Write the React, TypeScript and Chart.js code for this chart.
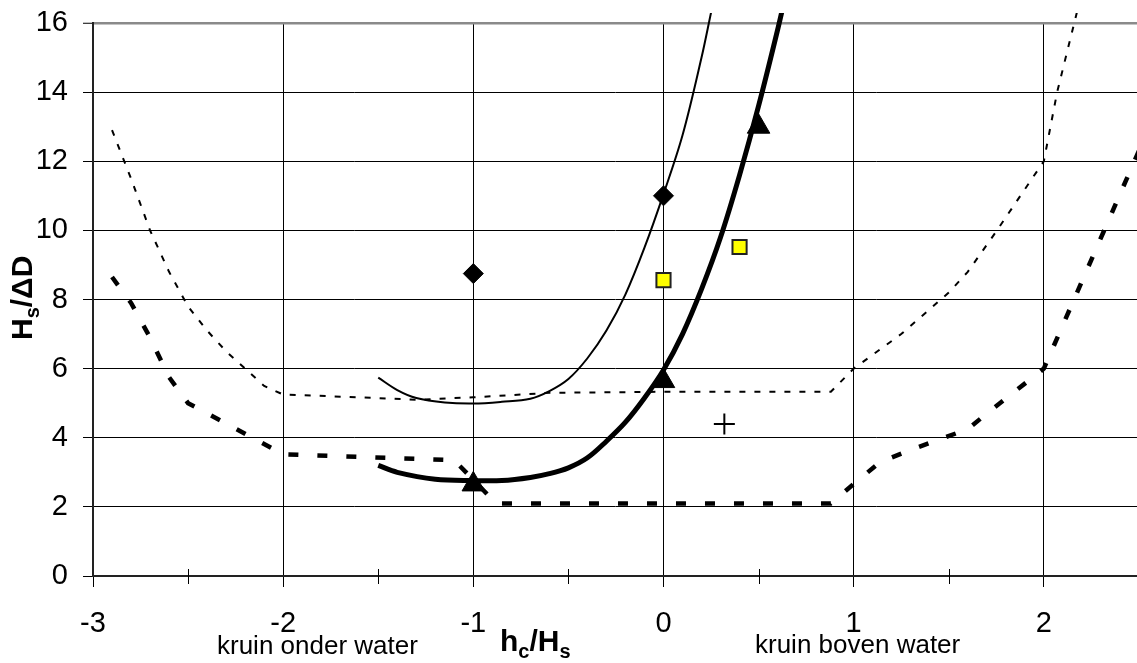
import React, { useEffect, useRef } from 'react';
import { Chart, registerables } from 'chart.js';

Chart.register(...registerables);

const FONT = "'Liberation Sans', Arial, Helvetica, sans-serif";

// Axis ticks
const xTickValues = [-3, -2.5, -2, -1.5, -1, -0.5, 0, 0.5, 1, 1.5, 2];
const xMinorTicks = [-2.5, -1.5, -0.5, 0.5, 1.5];
const yTickValues = [0, 2, 4, 6, 8, 10, 12, 14, 16];

// Thin solid curve
const thinCurveX = [-1.5, -1.4, -1.3, -1.15, -1.0, -0.85, -0.7, -0.6, -0.5, -0.4, -0.3, -0.2, -0.1, 0, 0.1, 0.2, 0.25];
const thinCurveY = [5.74, 5.38, 5.15, 5.02, 4.99, 5.04, 5.13, 5.35, 5.7, 6.3, 7.1, 8.15, 9.5, 11.05, 12.75, 15.0, 16.3];

// Thick solid curve
const thickCurveX = [-1.5, -1.4, -1.2, -1.0, -0.85, -0.7, -0.6, -0.5, -0.4, -0.3, -0.2, -0.1, 0, 0.1, 0.2, 0.3, 0.4, 0.5, 0.6, 0.65];
const thickCurveY = [3.2, 3.0, 2.8, 2.76, 2.76, 2.85, 2.96, 3.13, 3.42, 3.9, 4.45, 5.15, 5.96, 7.0, 8.3, 9.8, 11.6, 13.6, 15.8, 17.0];

// Thin dotted (upper) boundary
const upperDotX = [-2.9, -2.8, -2.7, -2.6, -2.5, -2.4, -2.3, -2.2, -2.1, -2.0, -1.6, -1.3, -1.0, -0.6, 0, 0.88, 1.0, 1.25, 1.5, 1.6, 1.75, 2.0, 2.07, 2.16, 2.25];
const upperDotY = [12.9, 11.5, 10.0, 8.8, 7.8, 7.1, 6.5, 6.0, 5.5, 5.25, 5.17, 5.1, 5.17, 5.3, 5.33, 5.33, 6.0, 7.0, 8.2, 8.8, 9.97, 12.0, 14.0, 16.0, 18.0];

// Thick dashed (lower) boundary
const lowerDashX = [-2.9, -2.8, -2.7, -2.6, -2.5, -2.0, -1.1, -0.88, 0.88, 1.03, 1.14, 1.3, 1.6, 1.7, 2.0, 2.5];
const lowerDashY = [8.65, 7.9, 6.9, 5.75, 5.0, 3.52, 3.35, 2.1, 2.1, 2.8, 3.3, 3.65, 4.25, 4.7, 6.0, 12.3];

// Measured points
const diamondX = [-1, 0];
const diamondY = [8.75, 11.0];
const squareX = [0, 0.4];
const squareY = [8.56, 9.52];
const triangleX = [-1, 0, 0.5];
const triangleY = [2.65, 5.64, 13.0];
const plusX = [0.32];
const plusY = [4.4];

const pts = (xs: number[], ys: number[]) => xs.map((x, i) => ({ x, y: ys[i] }));

const lineClip = { left: 0, top: 10, right: 0, bottom: 0 };

function drawParts(ctx: CanvasRenderingContext2D, parts: { t: string; sub?: boolean }[], x: number, y: number, size: number, subSize: number, subOff: number) {
  let cx = x;
  for (const p of parts) {
    ctx.font = `bold ${p.sub ? subSize : size}px ${FONT}`;
    ctx.fillText(p.t, cx, p.sub ? y + subOff : y);
    cx += ctx.measureText(p.t).width;
  }
}

const decorPlugin = {
  id: 'decor',
  afterDraw(chart: any) {
    const ctx: CanvasRenderingContext2D = chart.ctx;
    const xs = chart.scales.x;
    const ys = chart.scales.y;
    const y0 = ys.getPixelForValue(0);
    ctx.save();
    // minor ticks crossing the x axis
    ctx.strokeStyle = '#000';
    ctx.lineWidth = 1;
    for (const v of xMinorTicks) {
      const px = Math.round(xs.getPixelForValue(v)) + 0.5;
      ctx.beginPath();
      ctx.moveTo(px, y0 - 7);
      ctx.lineTo(px, y0 + 8);
      ctx.stroke();
    }
    ctx.fillStyle = '#000';
    ctx.textAlign = 'left';
    ctx.textBaseline = 'alphabetic';
    // x title
    drawParts(ctx, [{ t: 'h' }, { t: 'c', sub: true }, { t: '/H' }, { t: 's', sub: true }], 500, 651, 30, 20, 7);
    // y title (rotated)
    ctx.save();
    ctx.translate(32, 340);
    ctx.rotate(-Math.PI / 2);
    drawParts(ctx, [{ t: 'H' }, { t: 's', sub: true }, { t: '/ΔD' }], 0, 0, 30, 20, 7);
    ctx.restore();
    // side notes
    ctx.font = `26px ${FONT}`;
    ctx.fillText('kruin onder water', 217, 654);
    ctx.fillText('kruin boven water', 755, 653);
    ctx.restore();
  },
};

export default function App() {
  const ref = useRef<HTMLCanvasElement>(null);
  useEffect(() => {
    const canvas = ref.current;
    if (!canvas) return;
    const chart = new Chart(canvas, {
      type: 'scatter',
      data: {
        datasets: [
          {
            data: pts(triangleX, triangleY),
            showLine: false,
            pointStyle: 'triangle',
            pointRadius: 13,
            backgroundColor: '#000',
            borderColor: '#000',
            pointBackgroundColor: '#000',
            pointBorderColor: '#000',
            pointBorderWidth: 1,
          },
          {
            data: pts(diamondX, diamondY),
            showLine: false,
            pointStyle: 'rectRot',
            pointRadius: 10,
            backgroundColor: '#000',
            borderColor: '#000',
            pointBackgroundColor: '#000',
            pointBorderColor: '#000',
            pointBorderWidth: 1,
          },
          {
            data: pts(squareX, squareY),
            showLine: false,
            pointStyle: 'rect',
            pointRadius: 10,
            backgroundColor: '#ffff00',
            borderColor: '#222',
            pointBackgroundColor: '#ffff00',
            pointBorderColor: '#222',
            pointBorderWidth: 2,
          },
          {
            data: pts(plusX, plusY),
            showLine: false,
            pointStyle: 'cross',
            pointRadius: 10.5,
            backgroundColor: '#000',
            borderColor: '#000',
            pointBackgroundColor: '#000',
            pointBorderColor: '#000',
            pointBorderWidth: 2,
          },
          {
            data: pts(thickCurveX, thickCurveY),
            showLine: true,
            borderColor: '#000',
            borderWidth: 5,
            pointRadius: 0,
            tension: 0.35,
            clip: lineClip,
          },
          {
            data: pts(thinCurveX, thinCurveY),
            showLine: true,
            borderColor: '#000',
            borderWidth: 2,
            pointRadius: 0,
            tension: 0.35,
            clip: lineClip,
          },
          {
            data: pts(upperDotX, upperDotY),
            showLine: true,
            borderColor: '#000',
            borderWidth: 2,
            borderDash: [6, 9],
            pointRadius: 0,
            tension: 0,
            clip: lineClip,
          },
          {
            data: pts(lowerDashX, lowerDashY),
            showLine: true,
            borderColor: '#000',
            borderWidth: 4.5,
            borderDash: [10, 19],
            pointRadius: 0,
            tension: 0,
            clip: lineClip,
          },
        ],
      } as any,
      options: {
        animation: false,
        responsive: false,
        events: [],
        layout: { autoPadding: false, padding: { top: 23, right: 0, left: 0, bottom: 0 } },
        plugins: { legend: { display: false }, tooltip: { enabled: false } },
        scales: {
          x: {
            type: 'linear',
            min: -3,
            max: 2.49,
            afterBuildTicks: (s: any) => {
              s.ticks = xTickValues.map((v) => ({ value: v }));
            },
            afterFit: (s: any) => {
              s.height = 87;
              s.paddingLeft = 0;
              s.paddingRight = 0;
            },
            grid: {
              color: (c: any) => (Number.isInteger(c.tick?.value) ? '#000' : 'rgba(0,0,0,0)'),
              tickColor: (c: any) => (Number.isInteger(c.tick?.value) ? '#000' : 'rgba(0,0,0,0)'),
              lineWidth: 1,
              tickLength: 11,
              tickWidth: 1,
            },
            border: { color: '#222', width: 2 },
            ticks: {
              autoSkip: false,
              maxRotation: 0,
              padding: 20,
              color: '#000',
              font: { family: FONT, size: 29 },
              callback: (v: any) => (Number.isInteger(v) ? String(v) : ''),
            },
          },
          y: {
            type: 'linear',
            min: 0,
            max: 16,
            afterBuildTicks: (s: any) => {
              s.ticks = yTickValues.map((v) => ({ value: v }));
            },
            afterFit: (s: any) => {
              s.width = 93;
              s.paddingTop = 0;
              s.paddingBottom = 0;
            },
            grid: {
              color: (c: any) => (c.tick?.value === 16 ? '#8a8a8a' : '#000'),
              lineWidth: (c: any) => (c.tick?.value === 16 ? 2.5 : 1),
              tickColor: '#000',
              tickLength: 10,
              tickWidth: 1,
            },
            border: { color: '#222', width: 2 },
            ticks: {
              padding: 15,
              color: '#000',
              font: { family: FONT, size: 29 },
              callback: (v: any) => String(v),
            },
          },
        },
      } as any,
      plugins: [decorPlugin],
    });
    return () => chart.destroy();
  }, []);

  return (
    <div style={{ position: 'fixed', left: 0, top: 0, width: 1137, height: 663, background: '#fff' }}>
      <canvas ref={ref} width={1137} height={663} style={{ display: 'block', width: 1137, height: 663 }} />
    </div>
  );
}
